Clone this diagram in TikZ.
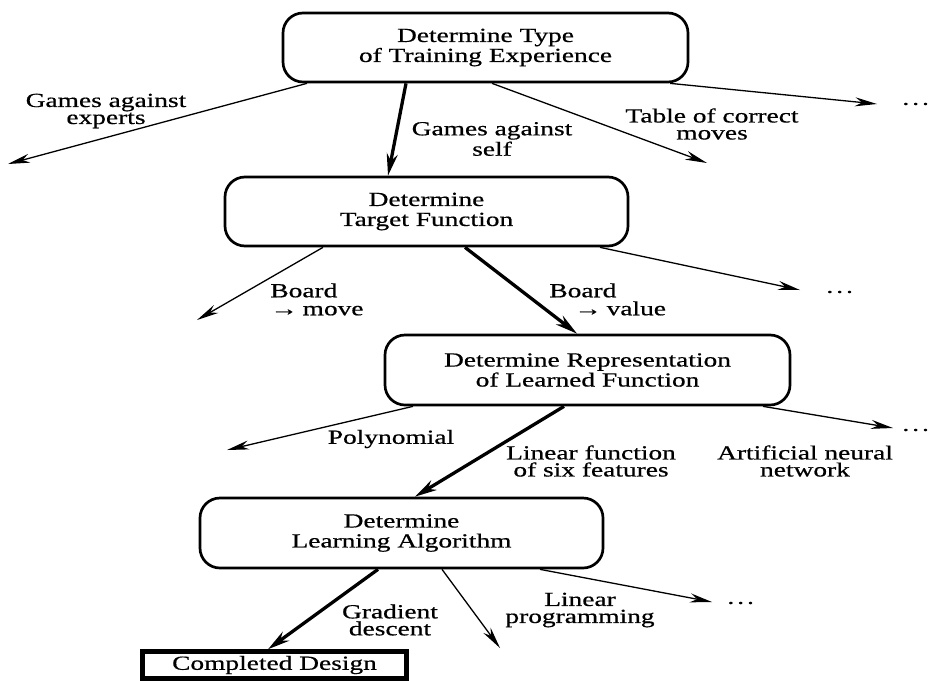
\documentclass[tikz,border=0pt]{standalone}
\usepackage{fontspec}
\setmainfont{Liberation Serif}[FakeStretch=1.37,FakeBold=0.6]
\usetikzlibrary{arrows.meta,calc}
\begin{document}
\begin{tikzpicture}[x=0.5pt,y=-0.5pt,
  box/.style={draw, line width=1.35pt, rounded corners=10pt, minimum width=202.5pt,
    minimum height=34.5pt, inner sep=0pt, align=center,
    font={\fontsize{10pt}{10pt}\selectfont}},
  donebox/.style={draw, line width=2.5pt, minimum width=132pt, minimum height=13.25pt,
    inner sep=0pt, font={\fontsize{10pt}{10pt}\selectfont}},
  lbl/.style={inner sep=0pt, align=center, font={\fontsize{10pt}{8.5pt}\selectfont}},
  boardlbl/.style={inner sep=0pt, anchor=north west, align=left,
    font={\fontsize{10pt}{9pt}\selectfont}},
  dots/.style={inner sep=0pt, anchor=west, font={\fontsize{10pt}{10pt}\selectfont}},
  thinarrow/.style={line width=0.65pt, -{Stealth[length=11pt,width=4.5pt,inset=3.5pt]}},
  thickarrow/.style={line width=1.65pt, -{Stealth[length=11pt,width=5.5pt,inset=3.5pt]}}
]
\useasboundingbox (0,0) rectangle (929,680);
\fill[white] (0,0) rectangle (929,680);

% boxes
\node[box] (b1) at (485.5,47.5) {Determine Type\\of Training Experience};
\node[box, minimum width=201.5pt] (b2) at (426.5,211.5) {Determine\\Target Function};
\node[box, minimum height=35pt] (b3) at (587.5,370) {Determine Representation\\of Learned Function};
\node[box, minimum width=201.5pt, minimum height=35pt] (b4) at (401.5,533) {Determine\\Learning Algorithm};
\node[donebox] (cd) at (274.5,665) {Completed Design};

% free ends
\coordinate (e1) at (8,164);
\coordinate (e2) at (707,163);
\coordinate (e3) at (877,104);
\coordinate (e4) at (197,320);
\coordinate (e5) at (800,290);
\coordinate (e6) at (227,450);
\coordinate (e7) at (893,428);
\coordinate (e8) at (500,648);
\coordinate (e9) at (712,602);

% connectors from box 1
\draw[thinarrow] ($(b1.south)+(-178.5,0)$) -- (e1);
\draw[thickarrow] ($(b1.south)+(-79.5,0)$) -- ($(b2.north)+(-38.5,0)$);
\draw[thinarrow] ($(b1.south)+(6.5,0)$) -- (e2);
\draw[thinarrow] ($(b1.south)+(184.5,0)$) -- (e3);

% connectors from box 2
\draw[thinarrow] ($(b2.south)+(-103.5,0)$) -- (e4);
\draw[thickarrow] ($(b2.south)+(38.5,0)$) -- ($(b3.north)+(-10.5,0)$);
\draw[thinarrow] ($(b2.south)+(173.5,0)$) -- (e5);

% connectors from box 3
\draw[thinarrow] ($(b3.south)+(-174.5,0)$) -- (e6);
\draw[thickarrow] ($(b3.south)+(-23.5,0)$) -- ($(b4.north)+(13.5,0)$);
\draw[thinarrow] ($(b3.south)+(175.5,0)$) -- (e7);

% connectors from box 4
\draw[thickarrow] ($(b4.south)+(-23.5,0)$) -- ($(cd.north)+(-6.5,0)$);
\draw[thinarrow] ($(b4.south)+(40.5,0)$) -- (e8);
\draw[thinarrow] ($(b4.south)+(138.5,0)$) -- (e9);

% labels
\node[lbl] (l1) at (106,111) {Games against\\experts};
\node[lbl] (l2) at (492,139) {Games against\\self};
\node[lbl] (l3) at (712,124) {Table of correct\\moves};
\node[boardlbl] (l4) at (270,283) {Board\\→\kern-1pt\ move};
\node[boardlbl] (l5) at (549,283) {Board\\\hspace*{12.5pt}→\kern-1pt\ value};
\node[lbl] (l6) at (391,439) {Polynomial};
\node[lbl] (l7) at (591,461) {Linear function\\of six features};
\node[lbl] (l8) at (805,461) {Artificial neural\\network};
\node[lbl] (l9) at (390,620) {Gradient\\descent};
\node[lbl] (l10) at (580,610) {Linear\\programming};

% dots
\node[dots] (d1) at (902,104) {.\kern1.5pt.\kern1.5pt.};
\node[dots] (d2) at (826,292) {.\kern1.5pt.\kern1.5pt.};
\node[dots] (d3) at (902,430) {.\kern1.5pt.\kern1.5pt.};
\node[dots] (d4) at (727,603) {.\kern1.5pt.\kern1.5pt.};
\end{tikzpicture}
\end{document}
